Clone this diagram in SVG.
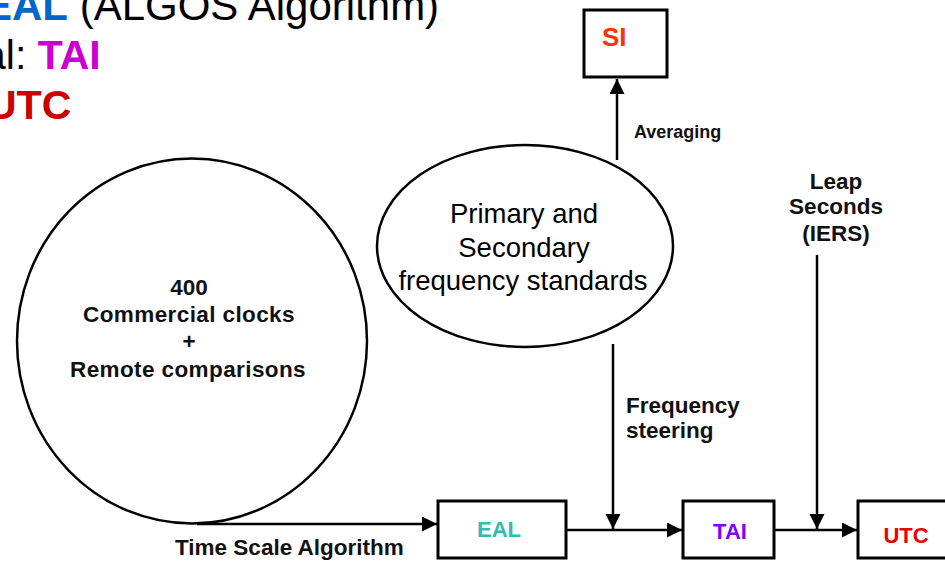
<svg xmlns="http://www.w3.org/2000/svg" width="945" height="561" viewBox="0 0 945 561">
<defs>
<style>
text{font-family:"Liberation Sans",Arial,sans-serif}
.b{font-weight:bold}
.lbl{font-weight:bold;font-size:22.5px;fill:#111}
.shape{fill:#fff;stroke:#000;stroke-width:2.5}
.box{fill:#fff;stroke:#000;stroke-width:3}
.conn{stroke:#000;stroke-width:2.5;fill:none}
</style>
<marker id="ah" markerUnits="userSpaceOnUse" markerWidth="16" markerHeight="16" viewBox="0 0 16 16" refX="15" refY="7.5" orient="auto">
<path d="M0,0 L15,7.5 L0,15 z" fill="#000"/>
</marker>
</defs>
<rect width="945" height="561" fill="#fff"/>
<g id="title">
<text x="-16" y="20" font-size="42"><tspan class="b" fill="#0066CC">EAL</tspan><tspan fill="#000"> (ALGOS Algorithm)</tspan></text>
<text x="-17" y="69" font-size="41"><tspan fill="#000">al: </tspan><tspan class="b" fill="#CC00CC">TAI</tspan></text>
<text x="-13" y="119" font-size="41" class="b" fill="#CC0000">UTC</text>
</g>
<g id="connectors">
<line class="conn" x1="617" y1="160" x2="617" y2="79" marker-end="url(#ah)"/>
<line class="conn" x1="613" y1="344" x2="613" y2="529" marker-end="url(#ah)"/>
<line class="conn" x1="817" y1="255" x2="817" y2="529" marker-end="url(#ah)"/>
<line class="conn" x1="197" y1="524" x2="437" y2="524" marker-end="url(#ah)"/>
<line class="conn" x1="566" y1="530" x2="682" y2="530" marker-end="url(#ah)"/>
<line class="conn" x1="774" y1="530" x2="857" y2="530" marker-end="url(#ah)"/>
<text x="634" y="138" class="b" font-size="18" fill="#111">Averaging</text>
<text x="626" y="413" class="lbl">Frequency</text>
<text x="626" y="438" class="lbl">steering</text>
<text x="836" y="189" class="lbl" text-anchor="middle">Leap</text>
<text x="836" y="214" class="lbl" text-anchor="middle">Seconds</text>
<text x="836" y="241" class="lbl" text-anchor="middle">(IERS)</text>
<text x="175" y="555" class="lbl">Time Scale Algorithm</text>
</g>
<g id="clocks">
<ellipse class="shape" cx="192" cy="341" rx="175" ry="182.5"/>
<text x="189" y="295" class="lbl" text-anchor="middle">400</text>
<text x="189" y="322" class="lbl" text-anchor="middle" letter-spacing="0.4">Commercial clocks</text>
<text x="189" y="349" class="lbl" text-anchor="middle">+</text>
<text x="188" y="377" class="lbl" text-anchor="middle" letter-spacing="0.4">Remote comparisons</text>
</g>
<g id="standards">
<ellipse class="shape" cx="525" cy="246" rx="148" ry="101"/>
<text x="524" y="223" font-size="27.5" text-anchor="middle" fill="#000">Primary and</text>
<text x="524" y="257" font-size="27.5" text-anchor="middle" fill="#000">Secondary</text>
<text x="523" y="290" font-size="27.5" text-anchor="middle" fill="#000">frequency standards</text>
</g>
<g id="si">
<rect class="box" x="584" y="10" width="83" height="67"/>
<text x="602" y="46" class="b" font-size="26" fill="#FF3300">SI</text>
</g>
<g id="eal">
<rect class="box" x="438" y="501" width="128" height="57"/>
<text x="499" y="537" class="b" font-size="22" text-anchor="middle" fill="#2CC0B0">EAL</text>
</g>
<g id="tai">
<rect class="box" x="683" y="501" width="91" height="57"/>
<text x="730" y="539" class="b" font-size="22" text-anchor="middle" fill="#7F00FF">TAI</text>
</g>
<g id="utc">
<rect class="box" x="858" y="501" width="92" height="57"/>
<text x="906" y="543" class="b" font-size="22" text-anchor="middle" fill="#EE0000">UTC</text>
</g>
</svg>
